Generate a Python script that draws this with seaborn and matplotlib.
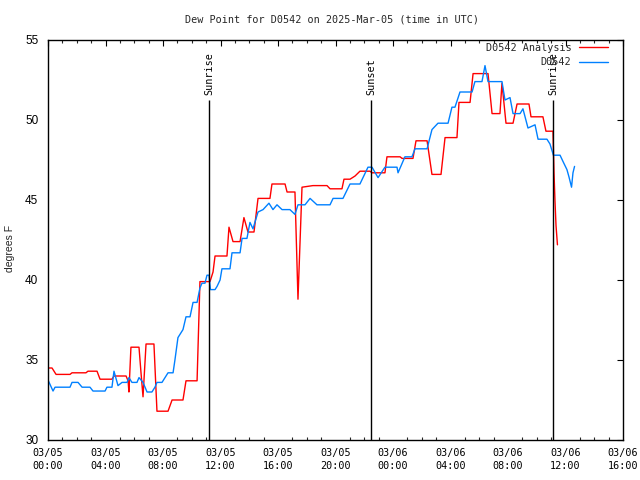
import matplotlib
matplotlib.use("Agg")
import matplotlib.pyplot as plt
from matplotlib.ticker import MultipleLocator
import seaborn as sns
import pandas as pd

# ---- data (hours since 03/05 00:00 UTC, dew point in deg F) ----
analysis_hours = [0.00, 0.28, 0.56, 1.53, 1.67, 2.64, 2.78, 3.41, 3.62, 4.45, 4.59, 5.43,
                  5.57, 5.63, 5.77, 6.33, 6.47, 6.61, 6.82, 7.37, 7.58, 8.35, 8.63, 9.39,
                  9.60, 10.37, 10.57, 11.27, 11.48, 11.62, 12.45, 12.59, 12.87, 13.36, 13.63,
                  13.91, 14.33, 14.61, 15.44, 15.58, 16.49, 16.63, 17.18, 17.39, 17.67, 18.43,
                  19.41, 19.62, 20.45, 20.59, 21.01, 21.36, 21.70, 22.40, 22.54, 23.44, 23.58,
                  24.49, 24.63, 25.39, 25.60, 26.37, 26.71, 27.34, 27.62, 28.45, 28.59, 29.36,
                  29.57, 30.61, 30.89, 31.44, 31.58, 31.86, 32.35, 32.63, 33.46, 33.60, 34.43,
                  34.64, 35.13, 35.20, 35.27, 35.34, 35.44]
analysis_vals = [34.5, 34.5, 34.1, 34.1, 34.2, 34.2, 34.3, 34.3, 33.8, 33.8, 34.0, 34.0,
                 33.7, 33.0, 35.8, 35.8, 34.2, 32.7, 36.0, 36.0, 31.8, 31.8, 32.5, 32.5,
                 33.7, 33.7, 39.9, 39.9, 40.5, 41.5, 41.5, 43.3, 42.4, 42.4, 43.9,
                 43.0, 43.0, 45.1, 45.1, 46.0, 46.0, 45.5, 45.5, 38.8, 45.8, 45.9,
                 45.9, 45.7, 45.7, 46.3, 46.3, 46.5, 46.8, 46.8, 46.7, 46.7, 47.7,
                 47.7, 47.6, 47.6, 48.7, 48.7, 46.6, 46.6, 48.9, 48.9, 51.1, 51.1,
                 52.9, 52.9, 50.4, 50.4, 52.3, 49.8, 49.8, 51.0, 51.0, 50.2, 50.2,
                 49.3, 49.3, 46.7, 44.9, 43.4, 42.2]

obs_hours = [0.00, 0.35, 0.49, 1.53, 1.67, 2.09, 2.37, 2.92, 3.13, 3.97, 4.10, 4.45, 4.59,
             4.87, 5.15, 5.50, 5.63, 5.84, 6.19, 6.33, 6.61, 6.89, 7.23, 7.44, 7.58, 7.93,
             8.14, 8.35, 8.70, 8.83, 9.04, 9.39, 9.60, 9.88, 10.09, 10.37, 10.57, 10.71,
             10.92, 11.06, 11.20, 11.30, 11.62, 11.76, 11.97, 12.10, 12.66, 12.80, 13.36,
             13.50, 13.84, 14.05, 14.26, 14.61, 14.96, 15.37, 15.65, 15.93, 16.28, 16.83,
             17.18, 17.39, 17.88, 18.23, 18.71, 19.62, 19.83, 20.52, 21.01, 21.70, 22.26,
             22.54, 22.96, 23.44, 24.28, 24.35, 24.83, 25.32, 25.53, 26.37, 26.71, 27.13,
             27.83, 28.10, 28.31, 28.66, 29.50, 29.70, 30.19, 30.40, 30.61, 31.58, 31.79,
             32.14, 32.35, 32.84, 33.04, 33.39, 33.88, 34.09, 34.71, 34.92, 35.16, 35.62,
             35.83, 36.10, 36.24, 36.42, 36.52, 36.63]
obs_vals = [33.75, 33.06, 33.3, 33.3, 33.6, 33.6, 33.3, 33.3, 33.06, 33.06, 33.3, 33.3, 34.3,
            33.4, 33.6, 33.6, 33.9, 33.6, 33.6, 33.9, 33.6, 33.0, 33.0, 33.3, 33.6, 33.6,
            33.9, 34.2, 34.2, 35.0, 36.4, 36.9, 37.7, 37.7, 38.6, 38.6, 39.5, 39.8,
            39.8, 40.3, 40.3, 39.4, 39.4, 39.6, 40.0, 40.7, 40.7, 41.7, 41.7,
            42.6, 42.6, 43.6, 43.2, 44.25, 44.4, 44.8, 44.4, 44.7, 44.4, 44.4,
            44.1, 44.7, 44.7, 45.1, 44.7, 44.7, 45.1, 45.1, 46.0, 46.0, 47.05,
            47.05, 46.4, 47.05, 47.05, 46.7, 47.7, 47.7, 48.2, 48.2, 49.4, 49.8,
            49.8, 50.8, 50.8, 51.75, 51.75, 52.4, 52.4, 53.4, 52.4, 52.4, 51.25,
            51.4, 50.4, 50.4, 50.7, 49.5, 49.7, 48.8, 48.8, 48.5, 47.8, 47.8,
            47.4, 46.9, 46.45, 45.8, 46.7, 47.1]

series_names = ["D0542 Analysis", "D0542"]
series_colors = ["#ff0000", "#0080ff"]

event_hours = [11.2, 22.47, 35.13]
event_labels = ["Sunrise", "Sunset", "Sunrise"]

tick_hours = [0, 4, 8, 12, 16, 20, 24, 28, 32, 36, 40]
tick_labels = ["03/05\n00:00", "03/05\n04:00", "03/05\n08:00", "03/05\n12:00",
               "03/05\n16:00", "03/05\n20:00", "03/06\n00:00", "03/06\n04:00",
               "03/06\n08:00", "03/06\n12:00", "03/06\n16:00"]
y_ticks = [30, 35, 40, 45, 50, 55]

title = "Dew Point for D0542 on 2025-Mar-05 (time in UTC)"
ylabel = "degrees F"

# ---- build frame ----
df = pd.concat([
    pd.DataFrame({"hour": analysis_hours, "value": analysis_vals, "series": series_names[0]}),
    pd.DataFrame({"hour": obs_hours, "value": obs_vals, "series": series_names[1]}),
], ignore_index=True)

sns.set_style("white")
mono = "DejaVu Sans Mono"
sans = "Liberation Sans"

fig = plt.figure(figsize=(6.4, 4.8), dpi=100)
ax = fig.add_axes([48 / 640, 40 / 480, 575 / 640, 400 / 480])

sns.lineplot(data=df, x="hour", y="value", hue="series", hue_order=series_names,
             palette=dict(zip(series_names, series_colors)), estimator=None, sort=False,
             linewidth=1.0, ax=ax)

ax.set_xlim(0, 40)
ax.set_ylim(30, 55)

# event lines
top_line = 51.25
ax.vlines(event_hours, 30, top_line, color="black", linewidth=1.0)
for h, lab in zip(event_hours, event_labels):
    ax.text(h, top_line + 0.3, lab, rotation=90, ha="center", va="bottom",
            fontsize=7.3, family=mono, color="black")

# ticks
ax.set_xticks(tick_hours)
ax.set_xticklabels(tick_labels, family=mono, fontsize=7.3, linespacing=1.35)
ax.xaxis.set_minor_locator(MultipleLocator(1))
ax.set_yticks(y_ticks)
ax.set_yticklabels([str(v) for v in y_ticks], family=sans, fontsize=8.5)
ax.tick_params(axis="both", which="major", direction="in", length=4, width=0.8,
               top=True, right=True, colors="black")
ax.tick_params(axis="x", which="major", pad=6)
ax.tick_params(axis="y", which="major", pad=7)
ax.tick_params(axis="x", which="minor", direction="in", length=2.5, width=0.8,
               top=True, bottom=True)
for sp in ax.spines.values():
    sp.set_color("black")
    sp.set_linewidth(1.0)

ax.set_xlabel("")
ax.set_ylabel(ylabel, family=sans, fontsize=7.5)
ax.yaxis.set_label_coords(-0.057, 0.48)

fig.text(332 / 640, 1 - 19 / 480, title, ha="center", va="center",
         family=mono, fontsize=7.3)

handles, labels = ax.get_legend_handles_labels()
ax.legend(handles, labels, loc="upper right", bbox_to_anchor=(1 - 12 / 575, 1.0),
          frameon=False, markerfirst=False,
          prop={"family": mono, "size": 7.3}, handlelength=2.9, handletextpad=0.7,
          labelspacing=0.4, borderaxespad=0.0, borderpad=0.3)

fig.savefig("out.png", dpi=100)
